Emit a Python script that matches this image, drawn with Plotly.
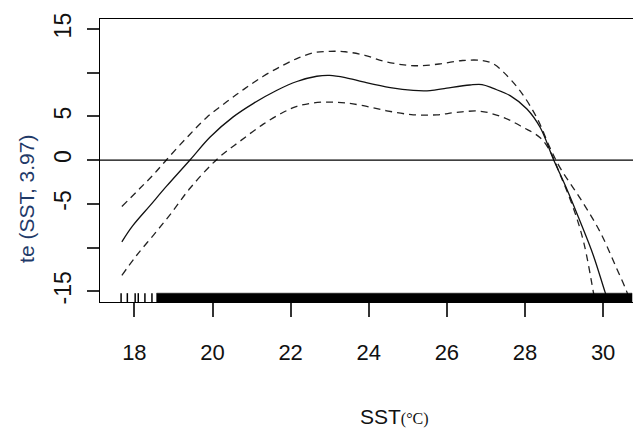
import plotly.graph_objects as go

# ---- data ----
sst_fit = [17.68, 17.95, 18.40, 18.83, 19.43, 19.94, 20.53, 21.05, 21.65, 22.16, 22.67, 23.00,
           23.40, 23.86, 24.55, 25.14, 25.57, 26.00, 26.59, 26.90, 27.19, 27.62, 28.05, 28.39,
           28.73, 29.07, 29.41, 29.75, 30.05, 30.15]
te_fit = [-9.34, -7.55, -5.20, -2.95, 0.05, 2.65, 4.95, 6.50, 8.00, 9.00, 9.60, 9.70,
          9.45, 8.95, 8.30, 7.98, 7.96, 8.25, 8.60, 8.65, 8.20, 7.38, 5.85, 3.73,
          0.08, -3.30, -7.00, -10.90, -15.10, -16.40]

sst_upper = [17.68, 18.15, 18.49, 18.83, 19.34, 19.85, 20.37, 20.80, 21.30, 21.80, 22.20, 22.60,
             23.00, 23.40, 23.90, 24.40, 24.90, 25.30, 25.80, 26.40, 26.90, 27.20, 27.45, 27.87,
             28.30, 28.64, 28.90, 29.41, 29.92, 30.35, 30.61, 30.70]
te_upper = [-5.31, -3.19, -1.65, 0.08, 2.57, 4.88, 6.70, 8.10, 9.60, 10.85, 11.70, 12.30,
            12.45, 12.40, 12.00, 11.30, 10.90, 10.80, 11.00, 11.40, 11.40, 11.00, 10.07, 7.96,
            4.88, 1.42, -0.89, -4.35, -8.19, -12.42, -15.10, -16.40]

sst_lower = [17.68, 18.06, 18.49, 18.91, 19.43, 20.11, 20.71, 21.30, 21.80, 22.16, 22.58, 23.00,
             23.40, 23.86, 24.46, 25.14, 25.74, 26.25, 26.85, 27.45, 27.96, 28.39, 28.64, 28.90,
             29.24, 29.50, 29.75, 29.80]
te_lower = [-13.18, -10.88, -8.57, -6.26, -3.19, 0.08, 2.19, 4.12, 5.45, 6.15, 6.55, 6.65,
            6.55, 6.23, 5.65, 5.19, 5.19, 5.46, 5.60, 4.88, 3.73, 2.57, 1.04, -1.65,
            -5.50, -9.34, -15.10, -16.40]

rug_sparse = [17.66, 17.82, 18.02, 18.10, 18.27, 18.45]
rug_dense = [18.57, 30.74]   # continuous band of observations

x_ticks = [18, 20, 22, 24, 26, 28, 30]
y_ticks = [-15, -10, -5, 0, 5, 10, 15]
y_ticktext = ["-15", "", "-5", "0", "5", "", "15"]

# ---- styling constants ----
Y_MIN, Y_MAX = -16.23, 16.15
X_MIN, X_MAX = 17.12, 30.97
RUG_TOP = -15.22
RUG_BOT = -16.6

fig = go.Figure()

dash_style = dict(color="#222", width=1.3, dash="7px,5px")
fig.add_trace(go.Scatter(x=sst_upper, y=te_upper, mode="lines", line_shape="spline",
                         line=dash_style, showlegend=False))
fig.add_trace(go.Scatter(x=sst_lower, y=te_lower, mode="lines", line_shape="spline",
                         line=dash_style, showlegend=False))
fig.add_trace(go.Scatter(x=sst_fit, y=te_fit, mode="lines", line_shape="spline",
                         line=dict(color="#111", width=1.3), showlegend=False))

fig.add_hline(y=0, line=dict(color="black", width=1.2))

# rug
rx, ry = [], []
for v in rug_sparse:
    rx += [v, v, None]
    ry += [RUG_BOT, RUG_TOP, None]
fig.add_trace(go.Scatter(x=rx, y=ry, mode="lines", line=dict(color="black", width=1.5),
                         showlegend=False))
a, b = rug_dense
fig.add_trace(go.Scatter(x=[a, b, b, a, a], y=[RUG_BOT, RUG_BOT, RUG_TOP, RUG_TOP, RUG_BOT],
                         mode="lines", fill="toself", fillcolor="black",
                         line=dict(color="black", width=0.5), showlegend=False))

# The page body has an 8px default margin, so the figure is sized to fit the window.
fig.update_layout(
    width=633, height=423,
    margin=dict(l=92, r=0, t=11, b=129, autoexpand=False),
    plot_bgcolor="white", paper_bgcolor="white",
    xaxis=dict(range=[X_MIN, X_MAX], tickvals=x_ticks, ticks="outside", ticklen=14,
               tickwidth=1.5, tickcolor="#333", showline=True, linecolor="black",
               linewidth=1.3, mirror=True, showgrid=False, zeroline=False,
               automargin=False, ticklabelstandoff=16,
               tickfont=dict(family="Liberation Sans, Arial", size=22, color="#111")),
    yaxis=dict(range=[Y_MIN, Y_MAX], tickvals=y_ticks, ticktext=y_ticktext, tickangle=-90,
               ticks="outside", ticklen=12, tickwidth=1.5, tickcolor="#333",
               showline=True, linecolor="black", linewidth=1.3, mirror=False,
               showgrid=False, zeroline=False, automargin=False, ticklabelstandoff=7,
               tickfont=dict(family="Liberation Sans, Arial", size=23, color="#111")),
    annotations=[
        dict(text="te (SST, 3.97)", xref="paper", yref="paper", x=-0.135, y=0.364,
             textangle=-90, showarrow=False, xanchor="center", yanchor="middle",
             font=dict(family="Liberation Sans, Arial", size=21, color="#1f3a68")),
        dict(text="SST<span style='font-family:Liberation Serif;font-size:16px'>(°C)</span>",
             xref="paper", yref="paper", x=0.545, y=-0.406, showarrow=False,
             xanchor="center", yanchor="middle",
             font=dict(family="Liberation Sans, Arial", size=21, color="#111")),
    ],
)

fig.write_html("out.html")
